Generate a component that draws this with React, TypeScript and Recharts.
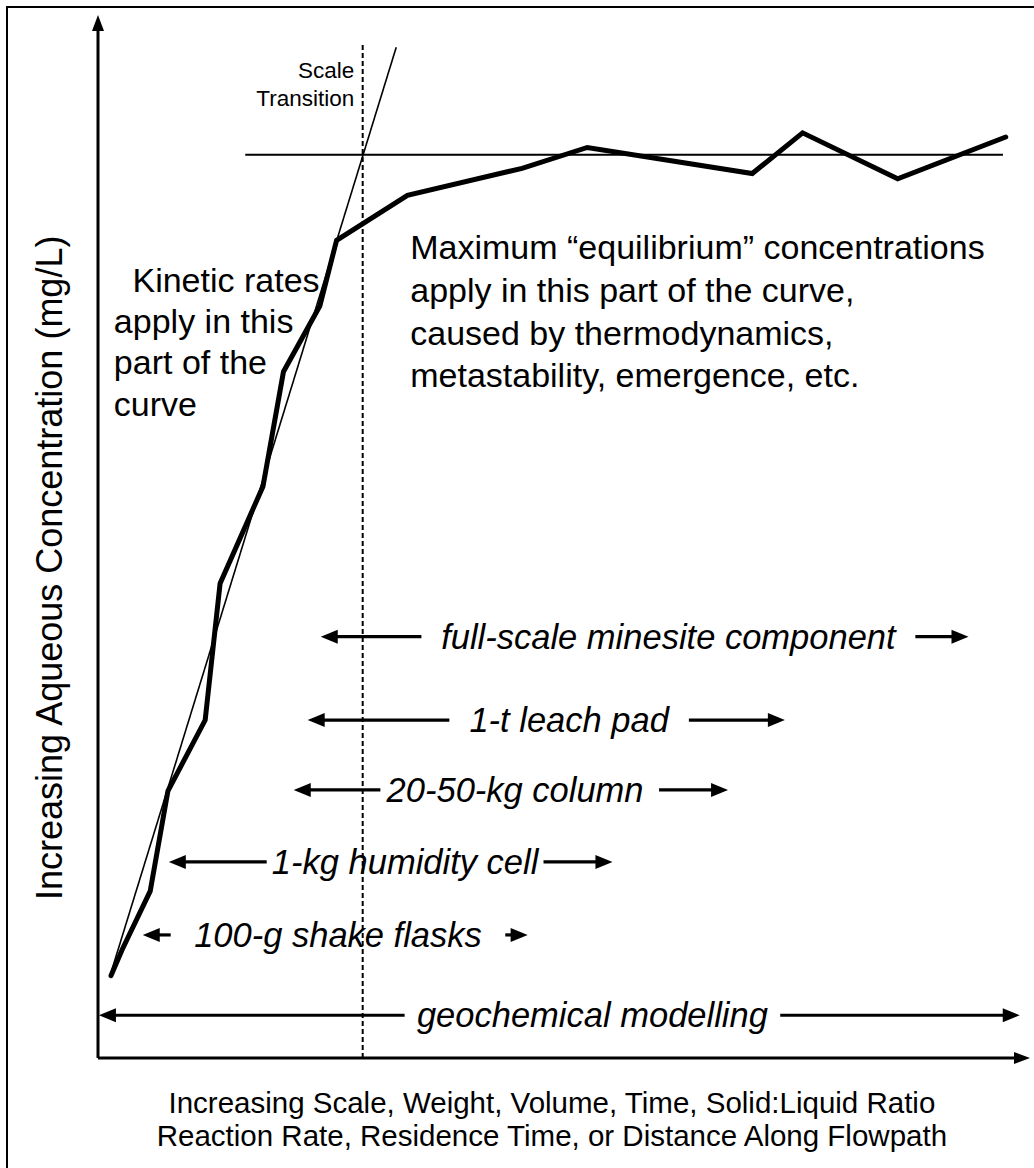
import { ComposedChart, Line, XAxis, YAxis, ReferenceLine, ReferenceDot } from 'recharts'

// both axes run 0..100 in arbitrary "increasing" units (conceptual diagram)

// measured concentration curve (thick line)
const curveX = [1.4, 2.6, 5.6, 7.5, 11.5, 13.1, 17.7, 19.9, 23.8, 25.6, 33.2, 45.5, 52.5, 70.2, 75.6, 85.8, 97.4]
const curveY = [7.9, 10.4, 16.0, 25.6, 32.4, 45.5, 54.8, 65.8, 72.1, 78.4, 82.7, 85.3, 87.3, 84.8, 88.7, 84.3, 88.3]

// straight kinetic-rate trend (thin line)
const kineticX = [1.3, 32.0]
const kineticY = [7.9, 96.9]

// equilibrium plateau
const plateauLevel = 86.6
const plateauFrom = 15.8
const plateauTo = 97.1

// scale transition
const transitionX = 28.4
const transitionTop = 97.3

// experiment scale ranges
const rangeLabels = [
  'full-scale minesite component',
  '1-t leach pad',
  '20-50-kg column',
  '1-kg humidity cell',
  '100-g shake flasks',
  'geochemical modelling',
]
const rangeLevel = [40.4, 32.4, 25.7, 18.8, 11.8, 4.1]
const rangeFrom = [23.9, 22.5, 21.0, 7.6, 4.8, 0.1]
const rangeTo = [93.4, 73.7, 67.6, 55.2, 46.1, 98.9]
const rangeGapFrom = [34.7, 37.7, 30.3, 18.1, 7.8, 32.9]
const rangeGapTo = [87.7, 63.4, 59.2, 47.8, 43.7, 73.2]

const curveData = curveX.map((x, i) => ({ x, y: curveY[i] }))
const kineticData = kineticX.map((x, i) => ({ x, y: kineticY[i] }))

const FONT = '"Liberation Sans", Arial, sans-serif'

const notes = [
  { text: 'Scale', x: 27.5, y: 94.0, anchor: 'end', size: 22.5 },
  { text: 'Transition', x: 27.5, y: 91.3, anchor: 'end', size: 22.5 },
  { text: 'Kinetic rates', x: 3.7, y: 73.4, anchor: 'start', size: 34 },
  { text: 'apply in this', x: 1.7, y: 69.5, anchor: 'start', size: 34 },
  { text: 'part of the', x: 1.7, y: 65.6, anchor: 'start', size: 34 },
  { text: 'curve', x: 1.7, y: 61.6, anchor: 'start', size: 34 },
  { text: 'Maximum \u201cequilibrium\u201d concentrations', x: 33.5, y: 76.6, anchor: 'start', size: 34 },
  { text: 'apply in this part of the curve,', x: 33.5, y: 72.5, anchor: 'start', size: 34 },
  { text: 'caused by thermodynamics,', x: 33.5, y: 68.4, anchor: 'start', size: 34 },
  { text: 'metastability, emergence, etc.', x: 33.5, y: 64.3, anchor: 'start', size: 34 },
  { text: 'Increasing Scale, Weight, Volume, Time, Solid:Liquid Ratio', x: 48.7, y: -5.3, anchor: 'middle', size: 29.5 },
  { text: 'Reaction Rate, Residence Time, or Distance Along Flowpath', x: 48.7, y: -8.4, anchor: 'middle', size: 29.5 },
]

// eslint-disable-next-line @typescript-eslint/no-explicit-any
function arrowShape(p: any, head: 'start' | 'end' | 'none', width: number, len: number, spread: number) {
  const { x1, y1, x2, y2 } = p
  const dx = x2 - x1
  const dy = y2 - y1
  const d = Math.hypot(dx, dy) || 1
  const ux = dx / d
  const uy = dy / d
  let sx = x1
  let sy = y1
  let ex = x2
  let ey = y2
  let poly = null
  if (head !== 'none') {
    const tx = head === 'end' ? x2 : x1
    const ty = head === 'end' ? y2 : y1
    const s = head === 'end' ? 1 : -1
    const bx = tx - s * ux * len
    const by = ty - s * uy * len
    const pts = `${tx},${ty} ${bx - uy * spread / 2},${by + ux * spread / 2} ${bx + uy * spread / 2},${by - ux * spread / 2}`
    poly = <polygon points={pts} fill="#000" />
    if (head === 'end') {
      ex = bx + ux
      ey = by + uy
    } else {
      sx = bx - ux
      sy = by - uy
    }
  }
  return (
    <g>
      <line x1={sx} y1={sy} x2={ex} y2={ey} stroke="#000" strokeWidth={width} />
      {poly}
    </g>
  )
}

export default function App() {
  return (
    <div style={{ position: 'relative', width: 1034, height: 1168, overflow: 'hidden', background: '#fff' }}>
      <style>{'body{margin:0}'}</style>
      <div
        style={{
          position: 'absolute',
          left: 6,
          top: 6,
          width: 1200,
          height: 1300,
          borderLeft: '2px solid #000',
          borderTop: '2px solid #000',
        }}
      />
      <div style={{ position: 'absolute', left: 0, top: 0 }}>
        <ComposedChart width={1034} height={1168} margin={{ top: 15, right: 4, bottom: 110, left: 98 }}>
          <XAxis type="number" dataKey="x" domain={[0, 100]} hide allowDataOverflow />
          <YAxis type="number" dataKey="y" domain={[0, 100]} hide allowDataOverflow />

          {/* axes with arrow heads */}
          <ReferenceLine
            segment={[{ x: 0, y: 0 }, { x: 0, y: 100 }]}
            ifOverflow="visible"
            shape={(p: any) => arrowShape(p, 'end', 3, 16, 12)}
          />
          <ReferenceLine
            segment={[{ x: 0, y: 0 }, { x: 100, y: 0 }]}
            ifOverflow="visible"
            shape={(p: any) => arrowShape(p, 'end', 3, 16, 12)}
          />

          {/* scale transition */}
          <ReferenceLine
            segment={[{ x: transitionX, y: 0 }, { x: transitionX, y: transitionTop }]}
            ifOverflow="visible"
            stroke="#000"
            strokeWidth={2}
            strokeDasharray="5 3"
          />

          {/* equilibrium plateau */}
          <ReferenceLine
            segment={[{ x: plateauFrom, y: plateauLevel }, { x: plateauTo, y: plateauLevel }]}
            ifOverflow="visible"
            stroke="#000"
            strokeWidth={2}
          />

          <Line
            data={kineticData}
            dataKey="y"
            type="linear"
            stroke="#000"
            strokeWidth={1.6}
            dot={false}
            activeDot={false}
            isAnimationActive={false}
          />
          <Line
            data={curveData}
            dataKey="y"
            type="linear"
            stroke="#000"
            strokeWidth={5}
            strokeLinejoin="miter"
            strokeLinecap="round"
            dot={false}
            activeDot={false}
            isAnimationActive={false}
          />

          {/* scale range arrows */}
          {rangeLabels.map((label, i) => [
            <ReferenceLine
              key={`l${i}`}
              segment={[{ x: rangeFrom[i], y: rangeLevel[i] }, { x: rangeGapFrom[i], y: rangeLevel[i] }]}
              ifOverflow="visible"
              shape={(p: any) => arrowShape(p, 'start', 3.2, 17, 14)}
            />,
            <ReferenceLine
              key={`r${i}`}
              segment={[{ x: rangeGapTo[i] + (i === 2 ? 1 : 0), y: rangeLevel[i] }, { x: rangeTo[i], y: rangeLevel[i] }]}
              ifOverflow="visible"
              shape={(p: any) => arrowShape(p, 'end', 3.2, 17, 14)}
            />,
            <ReferenceDot
              key={`t${i}`}
              x={(rangeGapFrom[i] + rangeGapTo[i]) / 2}
              y={rangeLevel[i]}
              r={0}
              ifOverflow="visible"
              shape={(p: any) => (
                <text
                  x={p.cx}
                  y={p.cy + 12}
                  textAnchor="middle"
                  fontFamily={FONT}
                  fontStyle="italic"
                  fontSize={34.5}
                  fill="#000"
                >
                  {label}
                </text>
              )}
            />,
          ])}

          {notes.map((n, i) => (
            <ReferenceDot
              key={`n${i}`}
              x={n.x}
              y={n.y}
              r={0}
              ifOverflow="visible"
              shape={(p: any) => (
                <text
                  x={p.cx}
                  y={p.cy}
                  textAnchor={n.anchor as any}
                  fontFamily={FONT}
                  fontSize={n.size}
                  fill="#000"
                >
                  {n.text}
                </text>
              )}
            />
          ))}

          <ReferenceDot
            x={-5.2}
            y={47.0}
            r={0}
            ifOverflow="visible"
            shape={(p: any) => (
              <text
                x={p.cx}
                y={p.cy}
                transform={`rotate(-90 ${p.cx} ${p.cy})`}
                textAnchor="middle"
                dominantBaseline="central"
                fontFamily={FONT}
                fontSize={36}
                fill="#000"
              >
                Increasing Aqueous Concentration (mg/L)
              </text>
            )}
          />
        </ComposedChart>
      </div>
    </div>
  )
}
